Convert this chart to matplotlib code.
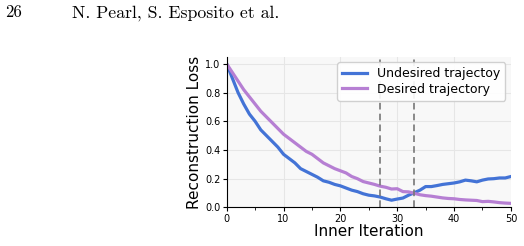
import numpy as np
import matplotlib
matplotlib.use("Agg")
import matplotlib.pyplot as plt
from matplotlib.ticker import MultipleLocator

# inner iterations 0..50
iterations = np.arange(51)

undesired = [1.00, 0.90, 0.80, 0.72, 0.65, 0.60, 0.54, 0.50, 0.46, 0.42,
             0.37, 0.34, 0.31, 0.27, 0.25, 0.23, 0.21, 0.185, 0.175, 0.16,
             0.15, 0.135, 0.12, 0.11, 0.095, 0.085, 0.08, 0.072, 0.06, 0.05,
             0.058, 0.065, 0.085, 0.102, 0.12, 0.145, 0.145, 0.152, 0.16, 0.165,
             0.17, 0.178, 0.19, 0.185, 0.178, 0.19, 0.198, 0.20, 0.205, 0.205,
             0.215]

desired = [1.00, 0.94, 0.88, 0.82, 0.77, 0.72, 0.67, 0.63, 0.59, 0.55,
           0.51, 0.48, 0.45, 0.42, 0.39, 0.37, 0.34, 0.31, 0.29, 0.27,
           0.255, 0.24, 0.215, 0.20, 0.18, 0.17, 0.16, 0.148, 0.14, 0.128,
           0.13, 0.11, 0.108, 0.098, 0.088, 0.082, 0.078, 0.072, 0.066, 0.062,
           0.06, 0.055, 0.052, 0.05, 0.048, 0.04, 0.042, 0.038, 0.033, 0.03,
           0.028]

vlines = [27, 33]

fig = plt.figure(figsize=(5.24, 2.46), dpi=100)
ax = fig.add_axes([0.4326, 0.157, 0.5424, 0.6125])
ax.set_facecolor('#f8f8f8')

ax.plot(iterations, undesired, color='#4373d6', lw=2.3, label='Undesired trajectoy')
ax.plot(iterations, desired, color='#b67fd3', lw=2.3, label='Desired trajectory')
for v in vlines:
    ax.axvline(v, color='#777777', lw=1.2, ls=(0, (4, 2.5)))

ax.set_xlim(0, 50)
ax.set_ylim(0, 1.05)
ax.xaxis.set_major_locator(MultipleLocator(10))
ax.xaxis.set_minor_locator(MultipleLocator(5))
ax.yaxis.set_major_locator(MultipleLocator(0.2))
ax.grid(True, color='#e6e6e6', lw=0.8)
ax.set_axisbelow(True)
for s in ['top', 'right']:
    ax.spines[s].set_visible(False)
ax.tick_params(labelsize=7, length=3, pad=1.5)
ax.tick_params(which='minor', length=2)

ax.set_xlabel('Inner Iteration', fontsize=11, labelpad=0)
ax.set_ylabel('Reconstruction Loss', fontsize=11, labelpad=2)
ax.legend(loc='upper right', fontsize=9, frameon=True, handlelength=2.0,
          borderaxespad=0.45, borderpad=0.4, labelspacing=0.2, handletextpad=0.8,
          edgecolor='#cccccc', framealpha=0.9)

# page header
fig.text(0.0095, 0.93, '26', fontfamily='cmr10', fontsize=12, va='baseline')
fig.text(0.137, 0.93, 'N. Pearl, S. Esposito et al.', fontfamily='cmr10', fontsize=12.8, va='baseline')

fig.savefig('out.png', dpi=100)
